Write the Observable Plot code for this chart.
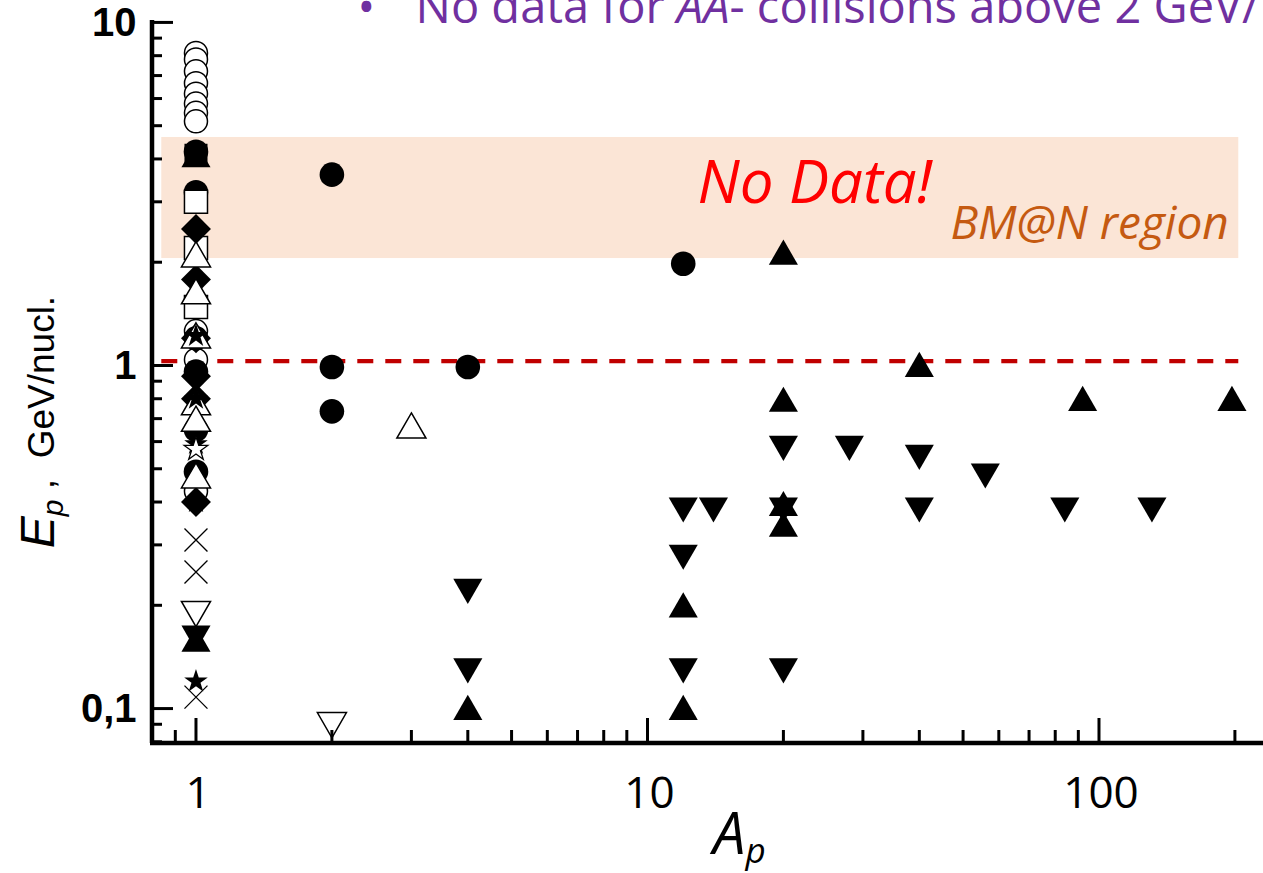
<!DOCTYPE html>
<html>
<head>
<meta charset="utf-8">
<script src="https://cdn.jsdelivr.net/npm/d3@7"></script>
<script src="https://cdn.jsdelivr.net/npm/@observablehq/plot@0.6"></script>
<style>
  html, body { margin: 0; padding: 0; background: #fff; }
  #chart svg { display: block; }
</style>
</head>
<body>
<div id="chart"></div>
<script>
// ---------------- data (A_p, E_p in GeV/nucl.) ----------------
const openCircle = [[1,8.15],[1,7.8],[1,7.2],[1,6.65],[1,6.2],[1,5.8],[1,5.45],[1,5.15],[1,1.26],[1,1.04],[1,0.43]];
const filledCircle = [[1,4.2],[1,3.2],[1,1.2],[1,0.96],[1,0.65],[1,0.49],[2,3.6],[2,0.99],[2,0.735],[4,0.99],[12,1.98]];
const openSquare = [[1,3.0],[1,2.2],[1,1.48]];
const filledSquare = [[1,4.1]];
const filledDiamond = [[1,2.5],[1,1.78],[1,1.2],[1,0.93],[1,0.8],[1,0.4]];
const openTriangleUp = [[1,2.05],[1,1.6],[1,1.19],[1,0.76],[1,0.68],[1,0.465],[3,0.65]];
const filledTriangleUp = [[1,4.0],[1,0.155],[4,0.098],[12,0.195],[12,0.098],[20,2.08],[20,0.775],[20,0.385],[20,0.335],[40,0.98],[92,0.78],[197,0.78]];
const filledTriangleDown = [[1,0.165],[4,0.226],[4,0.1325],[12,0.39],[12,0.284],[12,0.1325],[14,0.39],[20,0.59],[20,0.39],[20,0.1325],[28,0.59],[40,0.555],[40,0.39],[56,0.49],[84,0.39],[131,0.39]];
const openTriangleDown = [[1,0.194],[2,0.092]];
const crossMarks = [[1,0.31],[1,0.25],[1,0.108]];
const filledStar = [[1,1.22],[1,0.8],[1,0.59],[1,0.4],[1,0.12]];
const openStar = [[1,0.57]];

// BM@N region band and 1 GeV/nucl. reference line
const bmnBand = [{A1: 0.84, A2: 204, E1: 2.05, E2: 4.62}];
const refLine = [1.03];

// axis ticks
const xMajor = [1, 10, 100];
const xMinor = [0.8, 0.9, 2, 3, 4, 5, 6, 7, 8, 9, 20, 30, 40, 50, 60, 70, 80, 90, 200];
const yMajor = [0.1, 1, 10];
const yMinor = [0.08, 0.09, 0.2, 0.3, 0.4, 0.5, 0.6, 0.7, 0.8, 0.9, 2, 3, 4, 5, 6, 7, 8, 9];
const yTickLabels = ["0,1", "1", "10"];
const xTickLabels = ["1", "10", "100"];

// texts
const titleText = "No data for AA- collisions above 2 GeV/";
const noDataText = "No Data!";
const regionText = "BM@N region";

// ---------------- layout ----------------
const W = 1263, H = 873;
const mL = 150, mT = 20, mR = 0, mB = 130;
const xDomain = [0.793, 231.4];
const yDomain = [0.0791, 10.13];
const frameW = W - mL - mR, frameH = H - mT - mB;

// custom downward triangle (centroid at origin, mirror of d3.symbolTriangle)
const sqrt3 = Math.sqrt(3);
const triangleDown = {
  draw(ctx, size) {
    const y = -Math.sqrt(size / (sqrt3 * 3));
    ctx.moveTo(0, -y * 2);
    ctx.lineTo(-sqrt3 * y, y);
    ctx.lineTo(sqrt3 * y, y);
    ctx.closePath();
  }
};

const dotMark = (data, opts) => Plot.dot(data, {x: d => d[0], y: d => d[1], ...opts});

const sans = "'Open Sans', 'Noto Sans', sans-serif";
const arial = "'Liberation Sans', Arial, sans-serif";

const plot = Plot.plot({
  width: W, height: H,
  marginLeft: mL, marginTop: mT, marginRight: mR, marginBottom: mB,
  style: {background: "#fff", overflow: "visible"},
  x: {type: "log", domain: xDomain, axis: null},
  y: {type: "log", domain: yDomain, axis: null},
  marks: [
    Plot.rect(bmnBand, {x1: "A1", x2: "A2", y1: "E1", y2: "E2", fill: "#FBE5D6"}),
    Plot.ruleY(refLine, {y: d => d, x1: bmnBand[0].A1, x2: bmnBand[0].A2, stroke: "#C00000", strokeWidth: 4.3, strokeDasharray: "16,12"}),
    Plot.text([noDataText], {x: 12.9, y: 2.97, text: d => d, textAnchor: "start", lineAnchor: "bottom", fill: "#FF0000", fontSize: 60, fontStyle: "italic", fontFamily: sans}),
    Plot.text([regionText], {x: bmnBand[0].A2, y: bmnBand[0].E1, text: d => d, textAnchor: "end", lineAnchor: "bottom", dx: -10, dy: -20, fill: "#C55A11", fontSize: 46, fontStyle: "italic", fontFamily: sans}),

    // data points
    dotMark(openCircle, {symbol: "circle", r: 11.5, fill: "white", stroke: "black", strokeWidth: 1.5}),
    dotMark(filledCircle, {symbol: "circle", r: 12.3, fill: "black"}),
    dotMark(openSquare, {symbol: "square", r: 13, fill: "white", stroke: "black", strokeWidth: 1.5}),
    dotMark(filledSquare, {symbol: "square", r: 13, fill: "black"}),
    dotMark(filledDiamond, {symbol: "diamond2", r: 13.5, fill: "black"}),
    dotMark(openTriangleUp, {symbol: "triangle", r: 10.8, fill: "white", stroke: "black", strokeWidth: 1.5}),
    dotMark(filledTriangleUp, {symbol: "triangle", r: 10.8, fill: "black"}),
    dotMark(openTriangleDown, {symbol: triangleDown, r: 10.8, fill: "white", stroke: "black", strokeWidth: 1.5}),
    dotMark(filledTriangleDown, {symbol: triangleDown, r: 10.8, fill: "black"}),
    dotMark(crossMarks, {symbol: "times", r: 10.5, fill: "none", stroke: "black", strokeWidth: 1.3}),
    dotMark(filledStar, {symbol: "star", r: 7.4, fill: "black"}),
    dotMark(openStar, {symbol: "star", r: 7.4, fill: "white", stroke: "black", strokeWidth: 1.3}),

    // axis ticks (inward)
    Plot.tickY(yMajor, {y: d => d, stroke: "black", strokeWidth: 3, insetRight: frameW - 23}),
    Plot.tickY(yMinor, {y: d => d, stroke: "black", strokeWidth: 3, insetRight: frameW - 12}),
    Plot.tickX(xMajor, {x: d => d, stroke: "black", strokeWidth: 3, insetTop: frameH - 25}),
    Plot.tickX(xMinor, {x: d => d, stroke: "black", strokeWidth: 3, insetTop: frameH - 13}),

    // axis lines
    Plot.ruleX([xDomain[0]], {stroke: "black", strokeWidth: 4.5, dx: 1.5}),
    Plot.ruleY([yDomain[0]], {stroke: "black", strokeWidth: 4.5, dy: -0.5}),

    // tick labels
    Plot.text(yMajor, {x: xDomain[0], y: d => d, text: (d, i) => yTickLabels[i], textAnchor: "end", lineAnchor: "middle", dx: -14, dy: 1, fontSize: 40, fontWeight: "bold", fontFamily: arial, fill: "black"}),
    Plot.text(xMajor, {x: d => d, y: yDomain[0], text: (d, i) => xTickLabels[i], textAnchor: "middle", lineAnchor: "bottom", dx: 2, dy: 64, fontSize: 44, fontFamily: sans, fill: "black"}),

    // axis titles
    Plot.text(["A_p"], {frameAnchor: "bottom", text: d => d, textAnchor: "start", lineAnchor: "bottom", dx: 6, dy: 110, fontSize: 58, fontStyle: "italic", fontFamily: sans, fill: "black"}),
    Plot.text(["E_p"], {frameAnchor: "left", text: d => d, rotate: -90, textAnchor: "middle", lineAnchor: "bottom", dx: -97, dy: 40, fontSize: 37, fontFamily: arial, fill: "black"}),

    // clipped slide text above the chart
    Plot.text(["\u2022"], {frameAnchor: "top-left", text: d => d, textAnchor: "start", lineAnchor: "bottom", dx: 207, dy: 3, fontSize: 47, fontFamily: sans, fill: "#7030A0"}),
    Plot.text([titleText], {frameAnchor: "top-left", text: d => d, textAnchor: "start", lineAnchor: "bottom", dx: 265, dy: 2, fontSize: 47, fontFamily: sans, fill: "#7030A0"})
  ]
});

// rich text (italics / subscripts) for labels
const NS = "http://www.w3.org/2000/svg";
function richText(match, parts) {
  plot.querySelectorAll("text").forEach(t => {
    if (t.textContent !== match) return;
    t.textContent = "";
    for (const p of parts) {
      const s = document.createElementNS(NS, "tspan");
      s.textContent = p.t;
      if (p.style) s.setAttribute("font-style", p.style);
      if (p.size) s.setAttribute("font-size", p.size);
      if (p.dy) s.setAttribute("dy", p.dy);
      t.appendChild(s);
    }
  });
}
richText("A_p", [{t: "A"}, {t: "p", size: 35, dy: 9}]);
richText("E_p", [{t: "E", style: "italic", size: 48}, {t: "p", style: "italic", size: 30, dy: 9}, {t: " ,  GeV/nucl.", dy: -9}]);
const tA = titleText.indexOf("AA");
richText(titleText, [{t: titleText.slice(0, tA)}, {t: "AA", style: "italic"}, {t: titleText.slice(tA + 2)}]);

document.getElementById("chart").appendChild(plot);
</script>
</body>
</html>
